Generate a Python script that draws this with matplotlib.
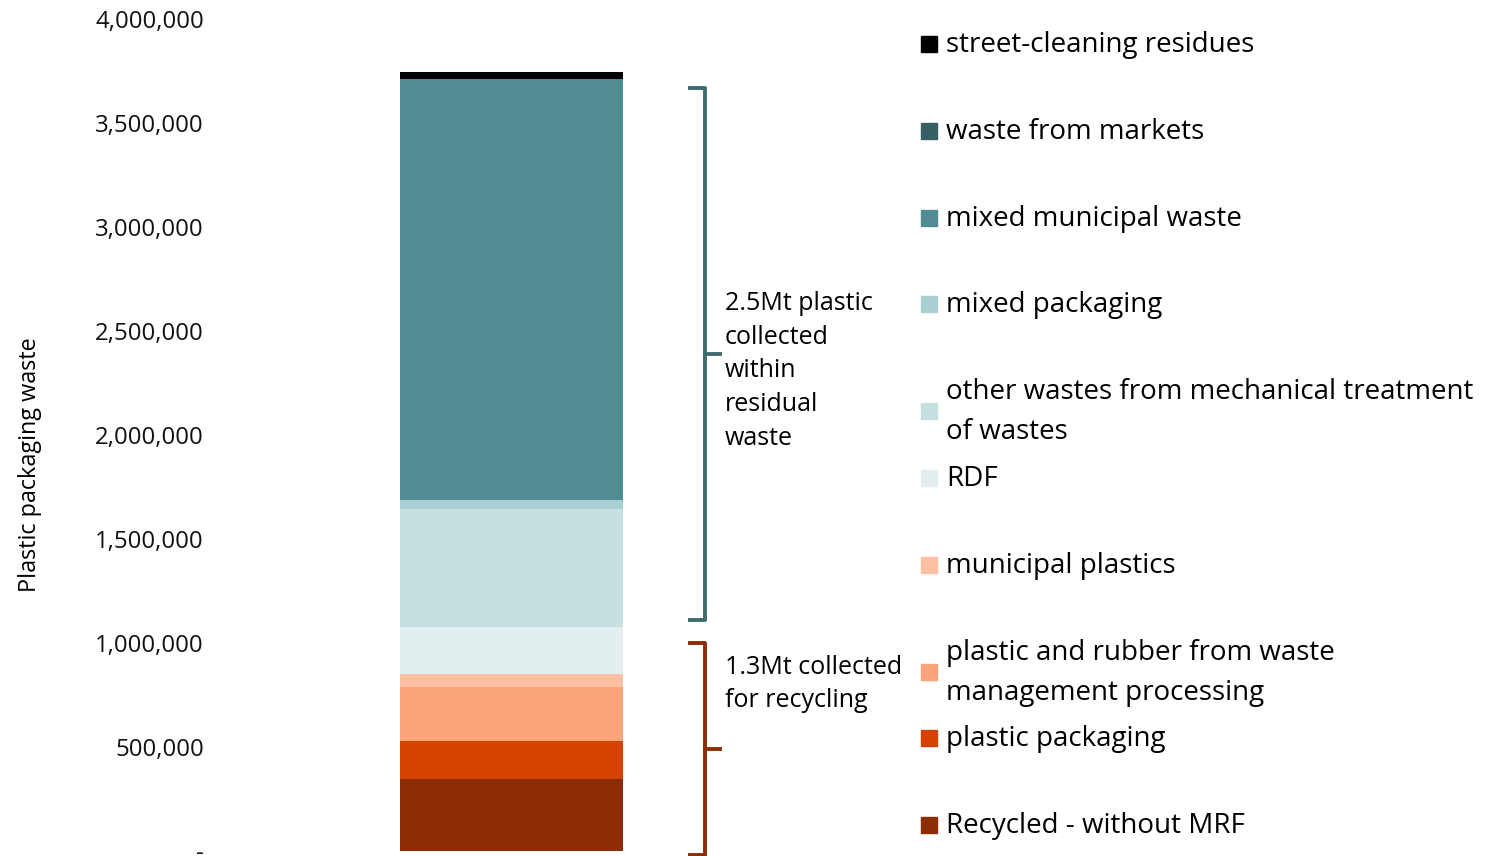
import matplotlib
matplotlib.use("Agg")
import matplotlib.pyplot as plt
from matplotlib.patches import Rectangle
from matplotlib.transforms import blended_transform_factory
from matplotlib.ticker import FuncFormatter

plt.rcParams['font.family'] = ['Open Sans', 'DejaVu Sans']

# stacked from bottom to top
categories = ['Recycled - without MRF', 'plastic packaging',
              'plastic and rubber from waste\nmanagement processing',
              'municipal plastics', 'RDF',
              'other wastes from mechanical treatment\nof wastes',
              'mixed packaging', 'mixed municipal waste',
              'waste from markets', 'street-cleaning residues']
values = [346000, 183000, 260000, 62500, 226000, 567000, 43000, 2024000, 2000, 34000]
colors = ['#8c2d03', '#d64300', '#fea47a', '#fdc0a2', '#e2eef0',
          '#c6dfe1', '#a9cfd3', '#518c92', '#376064', '#000000']

brace_recycling = (-20000, 1000000, 490000)   # bottom, top, tip
brace_residual = (1110000, 3670000, 2390000)

W, H = 1503, 856
fig = plt.figure(figsize=(W / 100, H / 100), dpi=100)
ax = fig.add_axes([215 / W, 5 / H, 685 / W, 832 / H])

bottom = 0
for v, c in zip(values, colors):
    ax.bar(0, v, width=1, bottom=bottom, color=c, linewidth=0)
    bottom += v

ax.set_xlim(-0.5 - 185 / 223, -0.5 - 185 / 223 + 685 / 223)
ax.set_ylim(0, 4000000)
ax.set_yticks(range(0, 4000001, 500000))
ax.yaxis.set_major_formatter(FuncFormatter(lambda v, p: '-' if v == 0 else f'{int(v):,}'))
ax.tick_params(axis='y', length=0, pad=8, labelsize=17.3, labelcolor='#111111')
ax.set_xticks([])
for s in ax.spines.values():
    s.set_visible(False)
fig.text(30 / W, 1 - 465 / H, 'Plastic packaging waste', rotation=90,
         ha='center', va='center', fontsize=16.8)

# braces
tr = blended_transform_factory(fig.transFigure, ax.transData)
def brace(lo, hi, tip, col):
    xv, xl, xr = 705 / W, 690 / W, 720 / W
    ax.plot([xl, xv, xv, xl], [lo, lo, hi, hi], transform=tr, color=col,
            lw=2.8, clip_on=False, solid_joinstyle='round')
    ax.plot([xv, xr], [tip, tip], transform=tr, color=col, lw=2.8, clip_on=False)

brace(*brace_residual, '#3d6b6e')
brace(*brace_recycling, '#8c2d03')

fig.text(725 / W, 1 - 371 / H, '2.5Mt plastic\ncollected\nwithin\nresidual\nwaste',
         va='center', ha='left', fontsize=18, linespacing=1.45)
fig.text(725 / W, 1 - 684 / H, '1.3Mt collected\nfor recycling',
         va='center', ha='left', fontsize=18, linespacing=1.45)

# legend, top to bottom
leg_y = [45, 132, 219, 305, 412, 479, 566, 673, 739, 826]
for (lab, c), y in zip(list(zip(categories, colors))[::-1], leg_y):
    fig.patches.append(Rectangle((921 / W, 1 - (y + 7) / H), 16 / W, 16 / H,
                                 transform=fig.transFigure, color=c))
    fig.text(946 / W, 1 - y / H, lab, va='center', ha='left', fontsize=20,
             linespacing=1.53)

fig.savefig('out.png', dpi=100)
